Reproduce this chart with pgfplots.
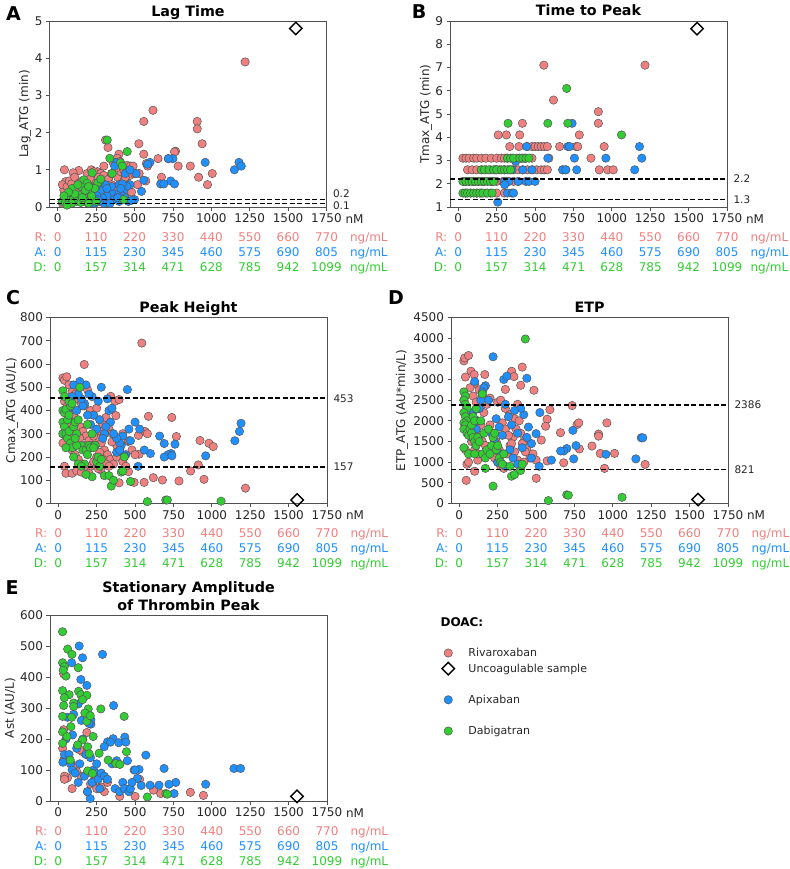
\documentclass[border=0pt]{standalone}
\usepackage{fontspec}
\setmainfont{DejaVu Sans}
\usepackage{pgfplots}
\pgfplotsset{compat=1.18}
\definecolor{riva}{RGB}{240,128,128}
\definecolor{apix}{RGB}{30,144,255}
\definecolor{dabi}{RGB}{50,205,50}
\definecolor{edgec}{RGB}{85,85,85}
\definecolor{axc}{RGB}{80,80,80}
\definecolor{txt}{RGB}{38,38,38}
\newcommand{\fs}{\fontsize{12}{14}\selectfont}
\newcommand{\fsm}{\fontsize{10.5}{12}\selectfont}
\newcommand{\ft}{\bfseries\fontsize{14.3}{17}\selectfont}
\pgfplotsset{
  panel/.style={
    scale only axis, width=277pt, height=186pt, anchor=south west,
    xmin=-54, xmax=1750, xtick={0,250,...,1750},
    clip mode=individual,
    axis line style={draw=axc, line width=0.9pt},
    tick style={draw=axc, line width=0.9pt},
    major tick length=3.5pt,
    tick align=outside, xtick pos=left, ytick pos=left,
    /pgf/number format/assume math mode=true,
    /pgf/number format/1000 sep={},
    ticklabel style={font=\fs, text=txt},
    ylabel style={font=\fs, text=txt},
    title style={font=\ft, text=black, at={(0.5,1)}, anchor=base, yshift=-1pt},
  },
  ylab/.style={ylabel style={at={([xshift=-#1]rel axis cs:0,0.5)}, anchor=center}},
  rp/.style={only marks, mark=*, mark size=4.2pt, color=edgec, mark options={fill=riva, line width=0.5pt}},
  ap/.style={only marks, mark=*, mark size=4.2pt, color=edgec, mark options={fill=apix, line width=0.5pt}},
  dp/.style={only marks, mark=*, mark size=4.2pt, color=edgec, mark options={fill=dabi, line width=0.5pt}},
  unc/.style={only marks, mark=square, mark size=4.4pt, color=black, mark options={rotate=45, fill=white, draw=black, line width=1.4pt}},
  refl/.style={black, line width=1.5pt, dash pattern=on 5pt off 2.5pt},
}
\newcommand{\col}[4]{%
  \node[font=\fs, text=riva, anchor=base] at ({axis cs:#1,0}|-{rel axis cs:0,0}) [yshift=-34pt] {#2};
  \node[font=\fs, text=apix, anchor=base] at ({axis cs:#1,0}|-{rel axis cs:0,0}) [yshift=-49pt] {#3};
  \node[font=\fs, text=dabi, anchor=base] at ({axis cs:#1,0}|-{rel axis cs:0,0}) [yshift=-64pt] {#4};
}
\newcommand{\rows}{%
  \node[font=\fs, text=txt, anchor=base west] at ({axis cs:1750,0}|-{rel axis cs:0,0}) [xshift=15.5pt, yshift=-16.4pt] {nM};
  \node[font=\fs, text=riva, anchor=base east] at ({axis cs:0,0}|-{rel axis cs:0,0}) [xshift=-7.5pt, yshift=-34pt] {R:};
  \node[font=\fs, text=apix, anchor=base east] at ({axis cs:0,0}|-{rel axis cs:0,0}) [xshift=-7.5pt, yshift=-49pt] {A:};
  \node[font=\fs, text=dabi, anchor=base east] at ({axis cs:0,0}|-{rel axis cs:0,0}) [xshift=-7.5pt, yshift=-64pt] {D:};
  \col{0}{0}{0}{0}\col{250}{110}{115}{157}\col{500}{220}{230}{314}\col{750}{330}{345}{471}
  \col{1000}{440}{460}{628}\col{1250}{550}{575}{785}\col{1500}{660}{690}{942}\col{1750}{770}{805}{1099}
  \node[font=\fs, text=riva, anchor=base west] at ({axis cs:1750,0}|-{rel axis cs:0,0}) [xshift=20pt, yshift=-34pt] {ng/mL};
  \node[font=\fs, text=apix, anchor=base west] at ({axis cs:1750,0}|-{rel axis cs:0,0}) [xshift=20pt, yshift=-49pt] {ng/mL};
  \node[font=\fs, text=dabi, anchor=base west] at ({axis cs:1750,0}|-{rel axis cs:0,0}) [xshift=20pt, yshift=-64pt] {ng/mL};
}
\newcommand{\reflab}[2]{\node[font=\fsm, text=txt, anchor=west] at ({rel axis cs:1,0}|-{axis cs:0,#1}) [xshift=3pt] {#2};}
\begin{document}
\begin{tikzpicture}
\useasboundingbox (0,0) rectangle (789pt,-869pt);
% ---------------- A
\begin{axis}[panel, at={(49.5pt,-207pt)}, ymin=0, ymax=5, ytick={0,1,2,3,4,5},
  title={Lag Time}, ylabel={Lag\_ATG (min)}, ylab=24.5pt]
\addplot[rp] coordinates {(1220,3.9)(620,2.6)(560,2.3)(908,2.3)(908,2.1)(940,1.7)(528,1.7)(560,1.42)(311,1.8)(327,1.6)(398,1.42)(387,1.31)(405,1.22)(767,1.5)(760,1.48)(720,1.3)(653,1.3)(784,1.1)(863,1.1)(577,1.17)(585,1.1)(917,0.8)(1006,0.9)(975,0.6)(675,0.8)(573,0.7)(452,1.12)(474,1.1)(409,1.0)(300,1.1)(257,0.95)(191,0.9)(137,0.98)(43,1.0)(100,0.92)(218,1.0)(235,0.95)(280,0.9)(50,0.68)(39,0.46)(30,0.6)(60,0.55)(75,0.7)(90,0.62)(110,0.8)(120,0.5)(140,0.65)(160,0.7)(170,0.55)(200,0.6)(210,0.75)(230,0.5)(250,0.65)(265,0.8)(285,0.7)(300,0.85)(310,0.6)(330,0.75)(350,0.9)(370,0.55)(390,0.8)(410,0.95)(430,0.7)(450,0.6)(470,0.85)(500,0.9)(520,0.6)(60,0.3)(80,0.25)(100,0.15)(130,0.3)(150,0.2)(180,0.35)(200,0.25)(240,0.2)(260,0.4)(290,0.3)(340,0.35)(380,0.45)(420,0.3)(40,0.2)(30,0.1)(450,0.5)(480,0.4)(330,0.45)(350,0.6)(490,1.1)(460,0.6)(380,1.05)(430,1.0)(440,0.8)(360,1.2)(530,0.9)};
\addplot[ap] coordinates {(1150,1.0)(1180,1.2)(1195,1.1)(960,1.2)(750,1.3)(720,1.3)(735,0.7)(760,0.62)(670,0.62)(690,0.62)(600,1.2)(585,1.15)(545,0.42)(560,0.72)(510,0.9)(500,0.2)(470,0.6)(450,0.55)(430,0.4)(420,0.3)(440,0.25)(400,0.6)(380,0.35)(360,0.2)(350,0.4)(330,0.15)(320,0.3)(300,0.1)(290,0.25)(280,0.45)(270,0.15)(255,0.3)(240,0.1)(220,0.2)(210,0.4)(400,0.15)(460,0.15)(480,0.18)(380,1.2)(370,1.1)(350,0.55)(310,0.6)(250,0.55)(440,0.9)(200,0.1)(180,0.15)(420,0.62)(470,1.0)(320,0.5)(390,0.25)(410,0.5)(340,0.1)(260,0.2)};
\addplot[dp] coordinates {(322,1.8)(452,1.49)(339,1.31)(409,1.19)(420,1.1)(354,0.9)(224,0.92)(274,0.7)(170,0.73)(191,0.64)(213,0.42)(93,0.5)(137,0.32)(61,0.28)(28,0.15)(50,0.12)(75,0.18)(100,0.2)(120,0.15)(150,0.12)(175,0.18)(200,0.1)(430,0.2)(260,0.65)(280,0.75)(150,0.55)(180,0.45)(110,0.35)(70,0.4)(240,0.5)(200,0.55)(130,0.6)(40,0.3)(90,0.1)(60,0.05)(160,0.25)(250,0.15)(220,0.3)};
\addplot[refl] coordinates {(-54,0.2)(1750,0.2)};
\addplot[refl] coordinates {(-54,0.1)(1750,0.1)};
\addplot[unc] coordinates {(1550,4.8)};
\reflab{0.35}{0.2}\reflab{0.035}{0.1}
\rows
\end{axis}
% ---------------- B
\begin{axis}[panel, at={(450pt,-207pt)}, ymin=1, ymax=9, ytick={1,...,9},
  title={Time to Peak}, ylabel={Tmax\_ATG (min)}, ylab=24pt]
\addplot[rp] coordinates {(30,3.1)(50,3.1)(70,3.1)(100,3.1)(120,3.1)(150,3.1)(180,3.1)(215,3.1)(250,3.1)(280,3.1)(300,3.1)(320,3.1)(350,3.1)(380,3.1)(410,3.1)(440,3.1)(480,3.1)(590,3.1)(864,3.1)
(60,2.6)(90,2.6)(120,2.6)(150,2.6)(180,2.6)(210,2.6)(240,2.6)(270,2.6)(300,2.6)(330,2.6)(360,2.6)(390,2.6)(420,2.6)(450,2.6)(480,2.6)(510,2.6)(540,2.6)(560,2.6)(580,2.6)(680,2.6)(700,2.6)(918,2.6)(972,2.6)(1009,2.6)
(40,2.1)(70,2.1)(100,2.1)(130,2.1)(160,2.1)(220,2.1)(250,2.1)(290,2.1)(320,2.1)(360,2.1)(390,2.1)
(50,1.6)(80,1.6)(120,1.6)(150,1.6)(180,1.6)(250,1.6)(300,1.6)
(335,3.6)(395,3.6)(450,3.6)(480,3.6)(500,3.6)(520,3.6)(540,3.6)(560,3.6)(580,3.6)(660,3.6)(767,3.6)(778,3.6)(950,3.6)
(260,4.1)(313,4.1)(400,4.1)(788,4.1)(417,4.6)(912,4.6)(912,5.1)(620,5.6)(557,7.1)(1216,7.1)};
\addplot[ap] coordinates {(445,3.6)(1180,3.6)(713,3.6)(725,3.6)(741,4.6)(583,3.1)(756,3.1)(961,3.1)(1195,3.1)(680,2.6)(700,2.6)(771,2.6)(1149,2.6)(374,2.96)(440,2.1)(460,2.1)(500,2.1)(300,2.1)(330,2.1)(302,1.96)(210,1.6)(320,1.6)(350,1.6)(360,1.6)(257,1.21)(400,3.1)(430,3.1)(300,2.6)(350,2.6)(420,2.6)(480,2.6)(390,2.1)(250,2.6)};
\addplot[dp] coordinates {(706,6.1)(324,4.6)(583,4.6)(713,4.6)(1063,4.1)
(320,3.1)(340,3.1)(360,3.1)(400,3.1)(420,3.1)(440,3.1)(460,3.1)
(150,2.6)(170,2.6)(200,2.6)(230,2.6)(250,2.6)(280,2.6)(300,2.6)(320,2.6)(340,2.6)
(30,2.1)(50,2.1)(70,2.1)(90,2.1)(110,2.1)(130,2.1)(150,2.1)(170,2.1)(190,2.1)(210,2.1)(230,2.1)
(30,1.6)(45,1.6)(60,1.6)(80,1.6)(100,1.6)(120,1.6)(140,1.6)(160,1.6)(190,1.6)(220,1.6)};
\addplot[refl] coordinates {(-54,2.2)(1750,2.2)};
\addplot[refl] coordinates {(-54,1.33)(1750,1.33)};
\addplot[unc] coordinates {(1555,8.67)};
\reflab{2.2}{2.2}\reflab{1.3}{1.3}
\rows
\end{axis}
% ---------------- C
\begin{axis}[panel, at={(50pt,-503.5pt)}, ymin=0, ymax=800, ytick={0,100,...,800},
  title={Peak Height}, ylabel={Cmax\_ATG (AU/L)}, ylab=38pt]
\addplot[rp] coordinates {(544,690)(169,598)(587,375)(739,370)(769,288)(923,271)(981,259)(1009,245)(912,166)(949,104)(862,140)(786,97)(619,111)(678,101)(494,91)(559,91)(522,293)(565,310)(580,300)(526,212)(455,267)(396,245)(375,378)(342,461)(370,440)(396,447)(396,89)(457,137)(277,144)(1219,66)
(30,540)(40,530)(55,545)(70,510)(90,480)(110,470)(130,450)(150,430)(170,420)(190,490)(210,400)(230,380)(250,410)(270,360)(290,340)(310,370)(330,320)(350,300)(40,440)(60,420)(80,400)(100,380)(120,350)(140,330)(160,310)(180,290)(200,270)(220,250)(240,300)(260,280)(280,260)(300,230)(320,210)(340,190)(360,170)(380,200)(400,230)(420,180)(440,160)(30,300)(50,270)(70,250)(90,230)(110,210)(130,190)(150,170)(170,150)(190,140)(210,160)(230,180)(250,200)(270,220)(290,190)(310,170)(330,160)(30,260)(40,160)(50,130)(90,130)(120,140)(150,135)(200,130)(260,150)(480,230)(500,210)(460,270)(420,300)(140,280)(60,350)(80,330)(100,300)(175,250)(230,290)(280,310)(380,250)(350,265)};
\addplot[ap] coordinates {(1190,345)(1180,310)(1150,270)(960,205)(760,255)(735,215)(715,210)(690,200)(740,205)(690,258)(660,290)(600,215)(560,230)(530,320)(500,350)(450,490)(470,270)(460,320)(440,210)(420,290)(410,250)(400,260)(380,280)(360,300)(340,350)(330,400)(310,330)(300,300)(290,280)(280,500)(270,360)(260,440)(250,320)(240,250)(230,380)(220,460)(210,340)(200,470)(190,380)(180,510)(170,430)(160,420)(150,450)(140,525)(130,470)(120,400)(110,350)(100,510)(90,460)(80,430)(60,400)(320,450)(350,410)(380,220)(430,205)(520,160)(400,230)};
\addplot[dp] coordinates {(30,485)(40,460)(30,400)(40,390)(50,405)(30,350)(40,330)(30,300)(50,300)(60,280)(70,310)(80,260)(90,240)(60,360)(70,380)(80,420)(100,330)(110,350)(120,300)(130,360)(140,500)(150,250)(160,230)(170,170)(180,230)(190,340)(200,250)(210,240)(220,300)(240,250)(250,180)(260,200)(270,160)(280,190)(100,200)(70,440)(90,430)(130,170)(150,160)(230,240)(190,210)(120,250)(300,120)(330,120)(345,75)(360,100)(410,135)(420,140)(430,200)(470,95)(580,8)(700,15)(710,15)(1060,10)(220,115)(180,125)(50,240)(110,280)};
\addplot[refl] coordinates {(-54,453)(1750,453)};
\addplot[refl] coordinates {(-54,157)(1750,157)};
\addplot[unc] coordinates {(1555,15)};
\reflab{453}{453}\reflab{157}{157}
\rows
\end{axis}
% ---------------- D
\begin{axis}[panel, at={(451pt,-503.5pt)}, ymin=0, ymax=4500, ytick={0,500,...,4500},
  title={ETP}, ylabel={ETP\_ATG (AU*min/L)}, ylab=49pt]
\addplot[rp] coordinates {(735,2370)(961,1950)(907,1680)(907,1630)(864,1390)(918,1212)(1011,1212)(946,850)(1210,945)(782,1320)(767,1910)(778,1950)(680,985)(659,1713)(590,2270)(572,2040)(562,1870)(534,1535)(572,1030)(501,610)(486,2740)(410,3300)(341,3200)(356,3070)(400,2860)(300,2760)
(30,3450)(35,3520)(60,3580)(76,3200)(40,3060)(97,3120)(166,3120)(100,2900)(130,2750)(150,2600)(200,2550)(250,2450)(270,2500)(300,2300)(330,2150)(360,2050)(380,2400)(400,1700)(420,1500)(440,1300)(460,1100)(480,1200)(500,1050)(30,2500)(50,2300)(70,2100)(90,1950)(110,1800)(130,1650)(150,1500)(170,1400)(190,1300)(210,1200)(230,1100)(250,1000)(270,900)(290,850)(310,1200)(330,1400)(350,1600)(370,1800)(390,2000)(410,1450)(430,1250)(40,1300)(50,950)(60,1000)(45,560)(100,780)(120,1050)(140,1900)(160,2200)(180,2400)(200,1900)(220,1700)(240,1500)(260,1300)(280,1950)(300,1800)(320,1650)(340,1450)(360,1250)(380,1050)(400,850)(420,1000)(60,1700)(80,1500)(100,1300)(120,1200)(70,2800)(90,2600)(110,2450)(130,2300)};
\addplot[ap] coordinates {(220,3550)(290,3000)(310,3080)(440,3030)(525,2200)(740,1770)(760,1400)(745,1080)(700,1330)(680,1270)(660,1270)(600,1050)(955,1190)(1185,1590)(1195,1590)(1150,1080)(520,900)(500,1690)(470,1450)(450,1850)(440,1600)(420,2150)(400,2300)(380,1700)(360,2250)(340,1900)(320,2100)(300,2400)(280,1650)(260,1850)(240,2050)(230,1500)(210,1700)(200,1300)(190,2500)(170,2850)(160,2800)(150,2700)(140,2500)(130,2300)(120,2000)(110,1800)(100,2950)(90,2200)(80,1600)(250,1000)(300,900)(350,1100)(410,1350)(470,1100)(330,1300)(270,1200)(380,950)};
\addplot[dp] coordinates {(30,2700)(40,2600)(30,2500)(40,2400)(50,2300)(30,2200)(40,2100)(50,2000)(30,1950)(40,1900)(30,1800)(50,1700)(60,1650)(70,1800)(80,1700)(90,1600)(100,1500)(110,1400)(80,1900)(90,2100)(100,2000)(110,2300)(120,1600)(130,1500)(140,2000)(150,1200)(160,1700)(170,1100)(180,1300)(190,1800)(200,1200)(210,1400)(220,1600)(230,1700)(240,1300)(250,1400)(260,1100)(270,1000)(280,950)(290,1200)(150,2650)(30,1350)(60,1200)(100,1200)(170,850)(430,3980)(220,420)(580,70)(700,210)(710,200)(1060,150)(340,660)(360,700)(330,900)(400,800)(410,950)};
\addplot[refl] coordinates {(-54,2386)(1750,2386)};
\addplot[refl] coordinates {(-54,821)(1750,821)};
\addplot[unc] coordinates {(1555,95)};
\reflab{2386}{2386}\reflab{821}{821}
\rows
\end{axis}
% ---------------- E
\begin{axis}[panel, at={(50pt,-801pt)}, ymin=0, ymax=600, ytick={0,100,...,600},
  ylabel={Ast (AU/L)}, ylab=40pt]
\addplot[rp] coordinates {(860,28)(945,18)(667,24)(620,35)(530,70)(500,15)(400,15)(300,30)(230,65)(210,55)(190,30)(150,80)(120,95)(90,40)(60,75)(40,80)(35,230)(28,170)(35,132)(40,70)(186,221)(158,159)(100,115)(280,45)(320,60)(250,40)(140,165)(35,410)};
\addplot[ap] coordinates {(136,500)(158,462)(87,446)(147,392)(186,373)(288,473)(360,308)(433,206)(357,201)(321,191)(299,175)(394,188)(570,148)(689,105)(1144,105)(1187,105)(960,54)(765,60)(721,54)(656,51)(754,24)(598,51)(494,100)(526,102)(515,73)(208,8)(93,213)(130,313)(212,248)(212,262)
(30,125)(40,150)(50,200)(60,270)(70,150)(80,120)(90,100)(100,280)(110,90)(120,170)(130,60)(140,120)(150,260)(160,200)(170,80)(180,150)(190,30)(200,250)(210,140)(220,60)(230,100)(240,90)(250,120)(260,70)(270,40)(280,90)(300,80)(320,70)(340,190)(350,120)(370,40)(380,130)(400,30)(420,60)(430,40)(440,190)(450,130)(460,30)(470,40)(480,60)(500,100)(540,50)};
\addplot[dp] coordinates {(28,546)(61,490)(89,473)(28,446)(39,433)(130,430)(50,403)(32,422)(28,356)(71,343)(132,354)(147,343)(100,316)(100,305)(39,333)(35,308)(28,273)(87,270)(277,297)(195,297)(186,341)(158,327)(186,257)(173,284)(208,275)(227,208)(82,240)(28,223)(56,208)(158,197)(126,181)(78,132)(191,175)(201,152)(266,154)(325,132)(375,121)(401,118)(429,273)(444,159)(191,97)(223,89)(580,13)(700,24)(710,22)(28,186)};
\addplot[unc] coordinates {(1555,15)};
\rows
\end{axis}
\node[font=\ft, text=black, anchor=base] at (188.5pt,-592pt) {Stationary Amplitude};
\node[font=\ft, text=black, anchor=base] at (188.5pt,-610pt) {of Thrombin Peak};
% ---------------- legend
\begin{axis}[hide axis, scale only axis, width=100pt, height=100pt, at={(439.5pt,-645pt)}, anchor=north west,
  xmin=0, xmax=1, ymin=0, ymax=1,
  legend style={at={(0,1)}, anchor=north west, draw=none, fill=none, inner sep=0pt, row sep=0pt,
    nodes={inner sep=0pt, minimum height=15.6pt, font=\fontsize{11}{12}\selectfont, text=txt},
    /tikz/every odd column/.append style={column sep=14pt}},
  legend cell align=left]
\addlegendimage{rp}\addlegendentry{Rivaroxaban}
\addlegendimage{unc}\addlegendentry{Uncoagulable sample}
\addlegendimage{empty legend}\addlegendentry{}
\addlegendimage{ap}\addlegendentry{Apixaban}
\addlegendimage{empty legend}\addlegendentry{}
\addlegendimage{dp}\addlegendentry{Dabigatran}
\end{axis}
\node[font=\bfseries\fontsize{12}{14}\selectfont, text=black, anchor=west] at (437pt,-622pt) {DOAC:};
% panel letters
\node[font=\bfseries\fontsize{19}{19}\selectfont] at (13.5pt,-14pt) {A};
\node[font=\bfseries\fontsize{19}{19}\selectfont] at (419pt,-12pt) {B};
\node[font=\bfseries\fontsize{19}{19}\selectfont] at (13pt,-298pt) {C};
\node[font=\bfseries\fontsize{19}{19}\selectfont] at (396pt,-298pt) {D};
\node[font=\bfseries\fontsize{19}{19}\selectfont] at (12pt,-588pt) {E};
\end{tikzpicture}
\end{document}
